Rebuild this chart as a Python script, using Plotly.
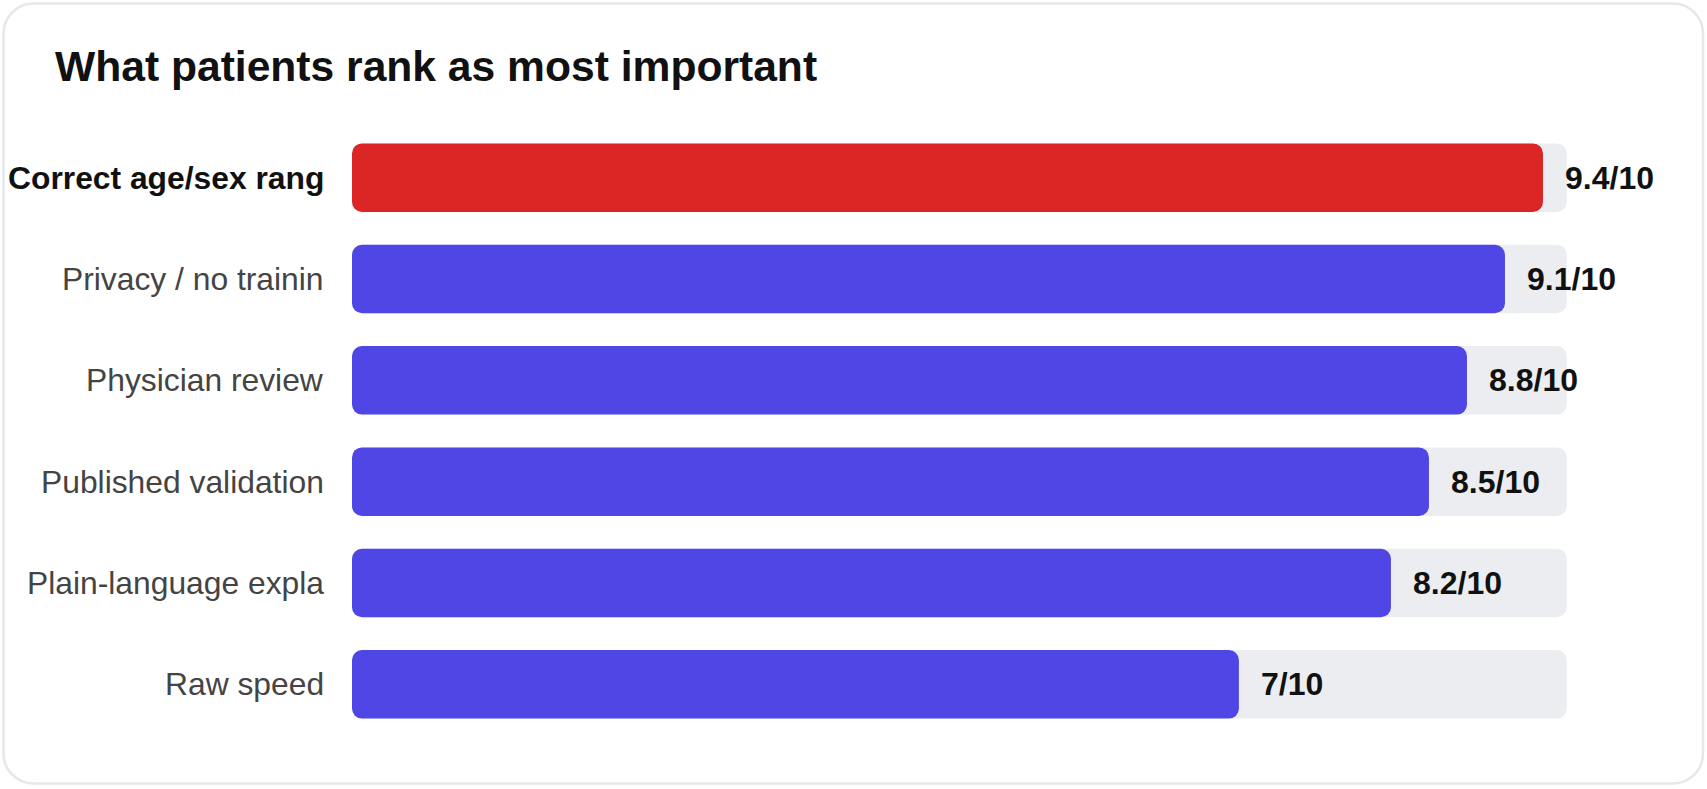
import plotly.graph_objects as go

# ---------------- data ----------------
categories = [
    "Correct age/sex rang",
    "Privacy / no trainin",
    "Physician review",
    "Published validation",
    "Plain-language expla",
    "Raw speed",
]
scores = [9.4, 9.1, 8.8, 8.5, 8.2, 7.0]
score_labels = ["9.4/10", "9.1/10", "8.8/10", "8.5/10", "8.2/10", "7/10"]
highlight = [True, False, False, False, False, False]
title_text = "What patients rank as most important"

# ---------------- layout constants ----------------
W, H = 1707, 789
L, R_, T, B = 352, 88, 127, 54
plot_w = W - L - R_
plot_h = H - T - B

RED = "#dc2626"
BLUE = "#4f46e5"
TRACK = "#ecedf1"
FONT = "Liberation Sans, Arial, Helvetica, sans-serif"
BAR_W = 0.676

track_value = max(scores) * 1.02
track_values = [track_value for _ in scores]
bar_colors = [RED if h else BLUE for h in highlight]
zero_base = [0 for _ in scores]

fig = go.Figure()
fig.add_trace(go.Bar(
    y=categories, x=track_values, base=zero_base, orientation="h", width=BAR_W,
    marker=dict(color=TRACK, line=dict(width=0), cornerradius=10),
    hoverinfo="skip", showlegend=False,
))
fig.add_trace(go.Bar(
    y=categories, x=scores, base=zero_base, orientation="h", width=BAR_W,
    marker=dict(color=bar_colors, line=dict(width=0), cornerradius=10),
    hoverinfo="skip", showlegend=False,
))

annotations = []
for cat, hl in zip(categories, highlight):
    annotations.append(dict(
        x=0, xref="x", y=cat, yref="y",
        text=f"<b>{cat}</b>" if hl else cat,
        xanchor="right", yanchor="middle", xshift=-26,
        showarrow=False,
        font=dict(family=FONT, size=31.8, color="#111111" if hl else "#444444"),
    ))
for cat, v, lab in zip(categories, scores, score_labels):
    annotations.append(dict(
        x=v, xref="x", y=cat, yref="y",
        text=f"<b>{lab}</b>",
        xanchor="left", yanchor="middle", xshift=20,
        showarrow=False,
        font=dict(family=FONT, size=32, color="#111111"),
    ))


def px_x(px):
    return (px - L) / plot_w


def px_y(py):
    return 1 - (py - T) / plot_h


def P(px, py):
    return f"{px_x(px):.6f},{px_y(py):.6f}"


# rounded card border
x0, y0, x1, y1, r = 3.5, 3.5, 1703.0, 783.5, 30.0
k = 0.5523
path = (
    f"M {P(x0 + r, y0)} L {P(x1 - r, y0)} "
    f"C {P(x1 - r + k * r, y0)} {P(x1, y0 + r - k * r)} {P(x1, y0 + r)} "
    f"L {P(x1, y1 - r)} "
    f"C {P(x1, y1 - r + k * r)} {P(x1 - r + k * r, y1)} {P(x1 - r, y1)} "
    f"L {P(x0 + r, y1)} "
    f"C {P(x0 + r - k * r, y1)} {P(x0, y1 - r + k * r)} {P(x0, y1 - r)} "
    f"L {P(x0, y0 + r)} "
    f"C {P(x0, y0 + r - k * r)} {P(x0 + r - k * r, y0)} {P(x0 + r, y0)} Z"
)

fig.update_layout(
    width=W, height=H,
    margin=dict(l=L, r=R_, t=T, b=B, pad=0),
    paper_bgcolor="white", plot_bgcolor="white",
    barmode="overlay",
    font=dict(family=FONT),
    title=dict(
        text=f"<b>{title_text}</b>",
        x=55 / W, xanchor="left", xref="container",
        y=1 - 66 / H, yanchor="middle", yref="container",
        font=dict(family=FONT, size=42.6, color="#111111"),
    ),
    xaxis=dict(range=[0, 10], visible=False, fixedrange=True),
    yaxis=dict(range=[5.5, -0.5], visible=False, fixedrange=True,
               categoryorder="array", categoryarray=categories),
    annotations=annotations,
    shapes=[dict(type="path", xref="paper", yref="paper", path=path,
                 line=dict(color="#e5e7eb", width=2.5), fillcolor="rgba(0,0,0,0)",
                 layer="below")],
    showlegend=False,
)

fig.write_html("out.html", config={"displayModeBar": False})
